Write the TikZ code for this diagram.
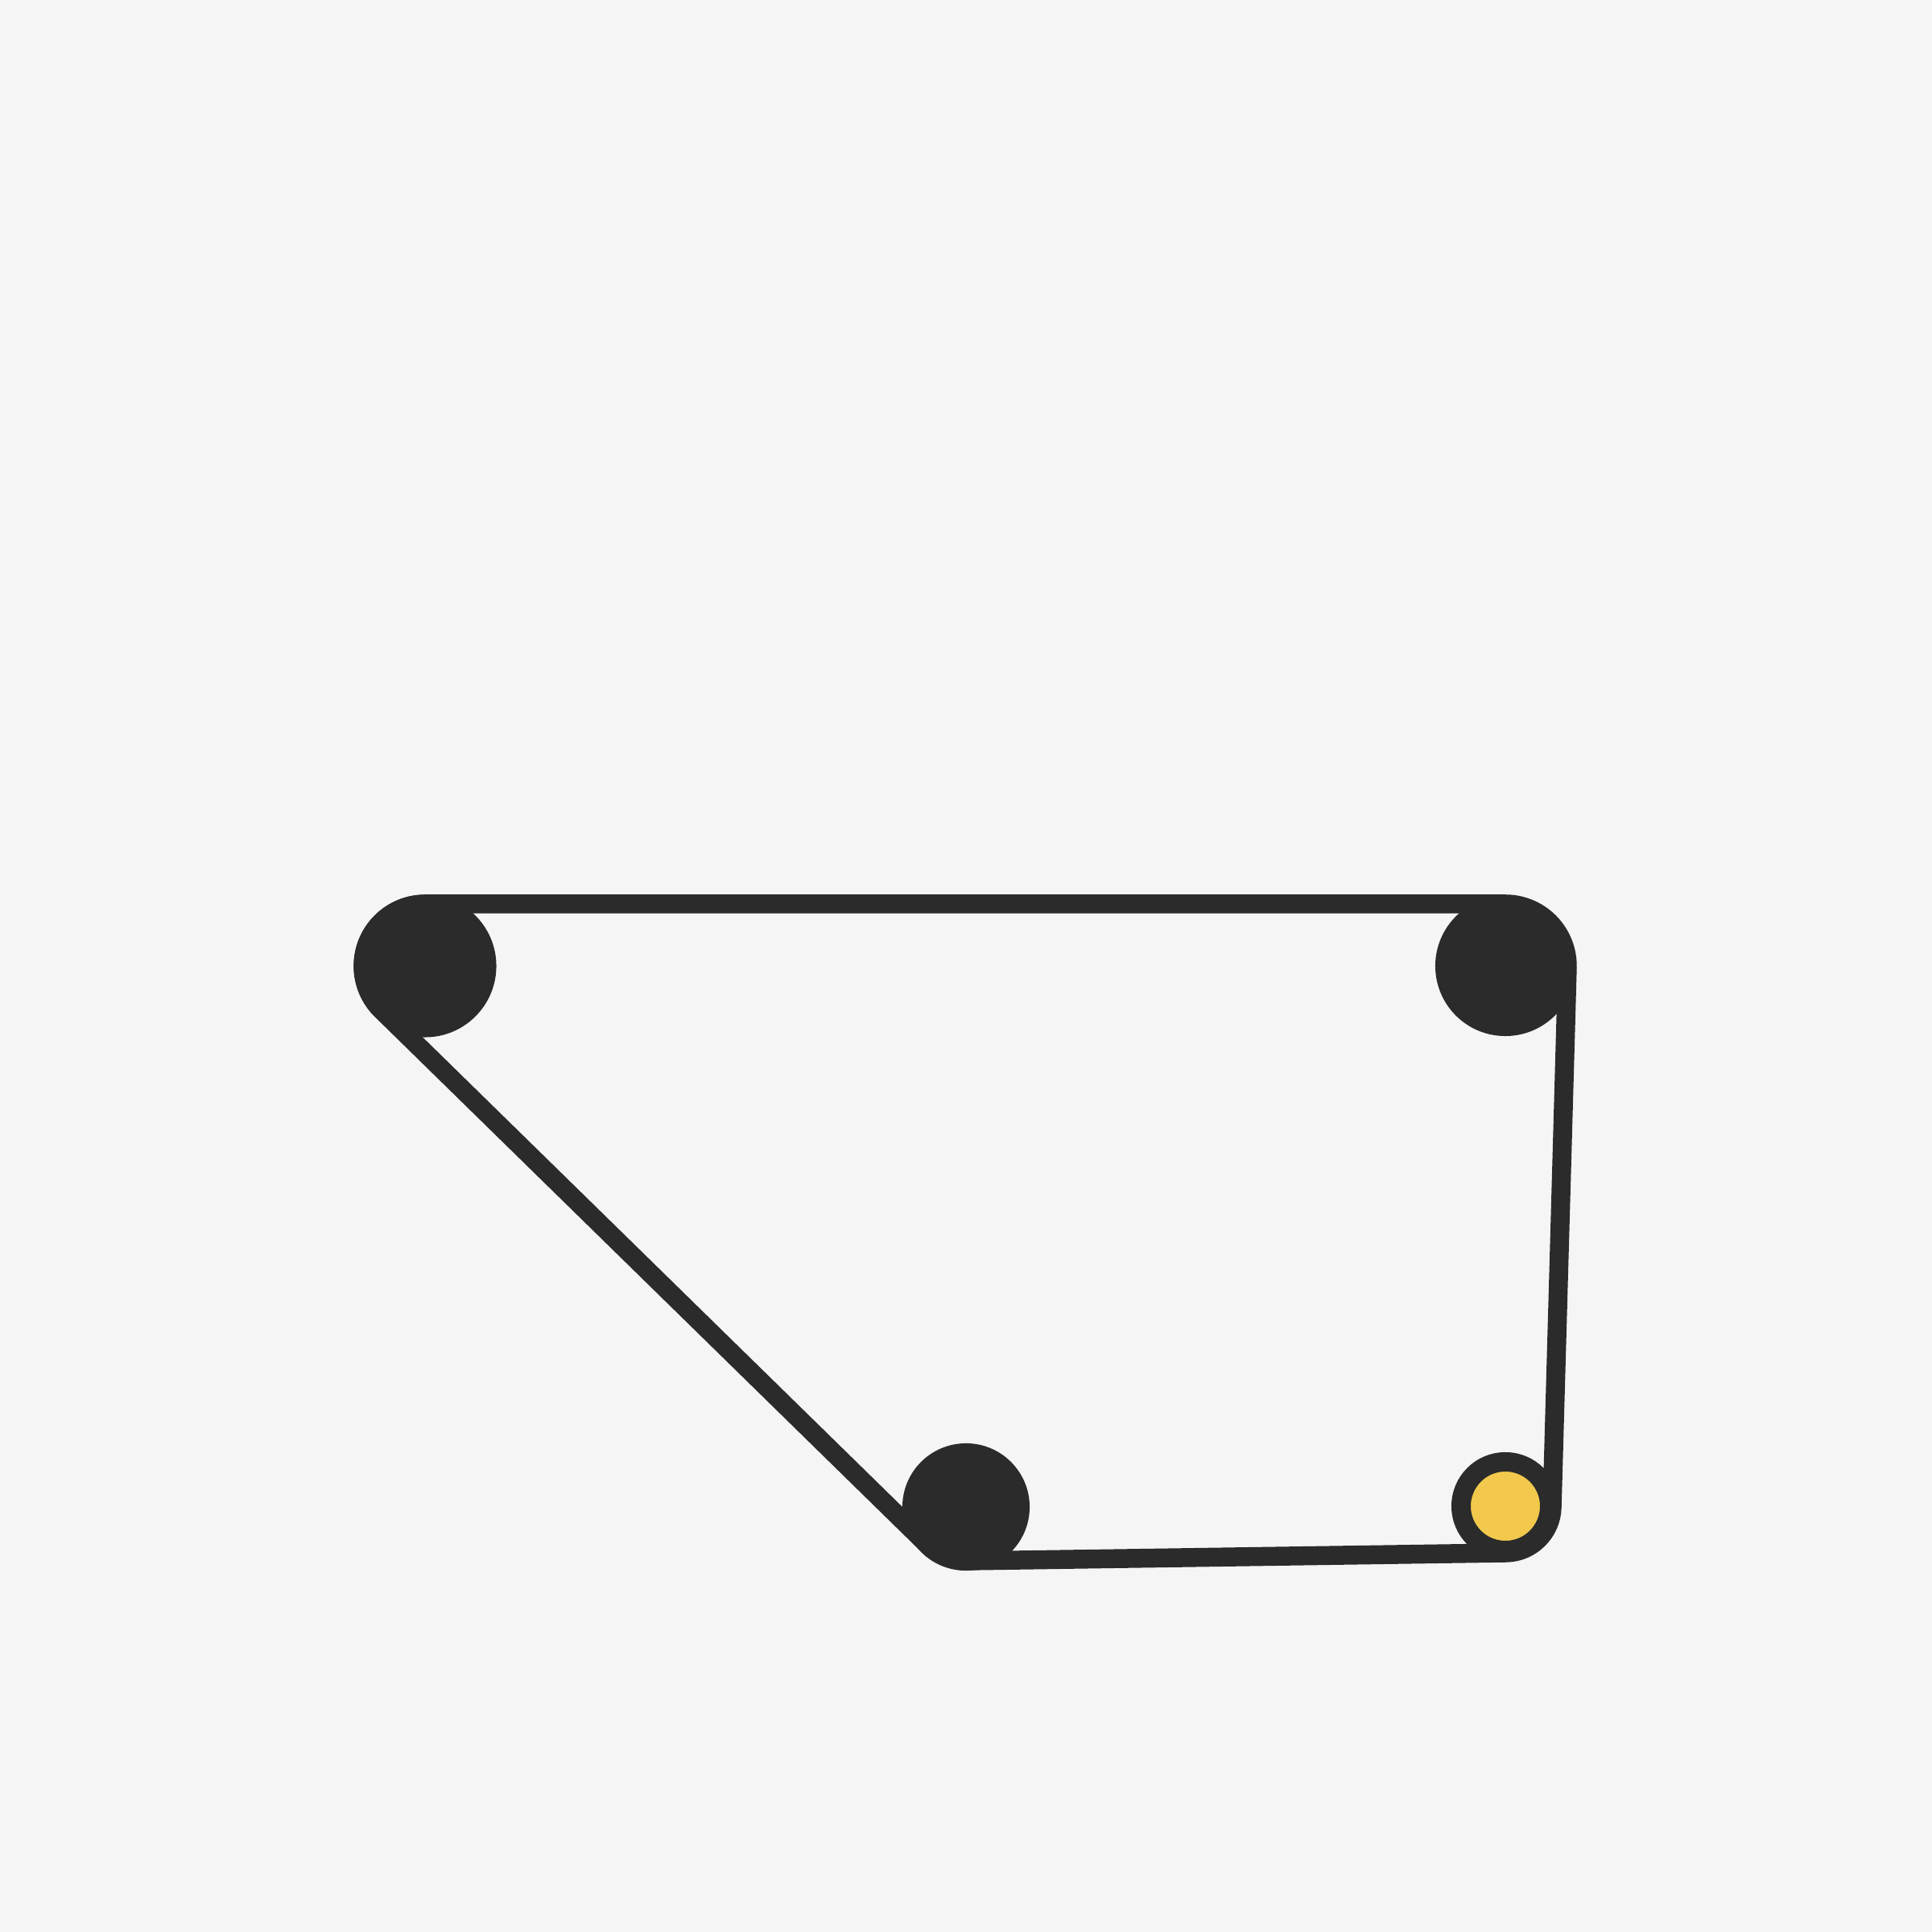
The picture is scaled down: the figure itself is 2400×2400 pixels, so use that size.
\documentclass[tikz,border=0pt]{standalone}
\usepackage{tikz}
\definecolor{bgc}{HTML}{F5F5F5}
\definecolor{ink}{HTML}{2B2B2B}
\definecolor{sun}{HTML}{F2C94C}
\begin{document}
\begin{tikzpicture}[x=0.01cm,y=0.01cm,
  hull/.style={draw=ink,line width=0.235cm,line join=round},
  dot/.style={circle,fill=ink,inner sep=0pt,outer sep=0pt},
  ring/.style={circle,draw=ink,fill=sun,line width=0.24cm,inner sep=0pt,minimum size=1.10cm}]
\fill[bgc] (0,0) rectangle (2400,2400);
\useasboundingbox (0,0) rectangle (2400,2400);
% hull around the nodes
\coordinate (ta) at (528,1277);
\coordinate (tb) at (1870,1277);
\coordinate (qd) at (1927.98,527.36);
\coordinate (qc) at (1201.0,461.01);
\coordinate (qa) at (474.13,1144.98);
\draw[hull] (ta) -- (tb) arc[start angle=90,end angle=-1.62,radius=77]
  -- (qd) arc[start angle=-1.62,end angle=-89.145,radius=58]
  -- (qc) arc[start angle=-89.145,end angle=-134.397,radius=67]
  -- (qa) arc[start angle=225.603,end angle=90,radius=77] -- cycle;
% nodes
\node[dot,minimum size=1.77cm] (a) at (528,1200) {};
\node[dot,minimum size=1.74cm] (b) at (1870,1200) {};
\node[dot,minimum size=1.58cm] (c) at (1200,528) {};
\node[ring] (d) at (1870,529) {};
\end{tikzpicture}
\end{document}
